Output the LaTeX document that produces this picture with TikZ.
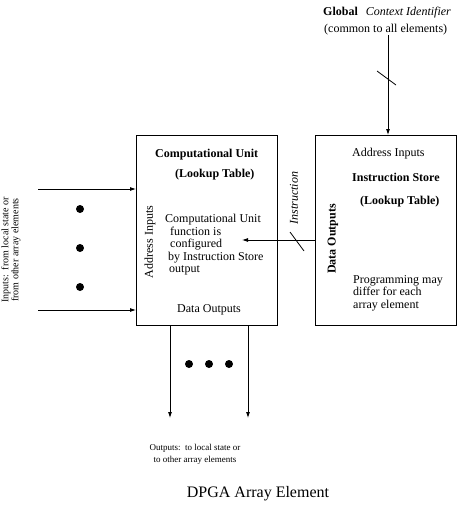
\documentclass[tikz,border=0pt]{standalone}
\usepackage{fontspec}
\setmainfont{Liberation Serif}
\usetikzlibrary{arrows.meta}
\begin{document}
\begin{tikzpicture}[x=1pt,y=-1pt,
    box/.style={draw,line width=0.8pt,minimum width=141pt,minimum height=190pt,anchor=north west,inner sep=0pt},
    txt/.style={inner sep=0pt,font=\fontsize{12}{12.5}\selectfont},
    arr/.style={line width=0.8pt,-{Latex[length=6pt,width=4pt]}}]
    \useasboundingbox (0,0) rectangle (457,509);
    \node[box] (cu) at (136,135) {};
    \node[box] (is) at (315,135) {};
    \node[txt,anchor=base west] (ctx) at (323,15) {\textbf{Global}\hspace{8pt}\textit{Context Identifier}};
    \node[txt,anchor=base west] (common) at (324,32) {(common to all elements)};
    \node[txt,anchor=base west] (cuname) at (155,157) {\textbf{Computational Unit}};
    \node[txt,anchor=base west] (culut) at (175,177) {\textbf{(Lookup Table)}};
    \node[txt,rotate=90] (cuaddr) at (150,242) {Address Inputs};
    \node[txt,anchor=north west,align=left] (cufun) at (165,214) {Computational Unit\\\hspace*{5pt}function is\\\hspace*{5pt}configured\\\hspace*{3pt}by Instruction Store\\\hspace*{4pt}output};
    \node[txt,anchor=base west] (cuout) at (177,312) {Data Outputs};
    \node[txt,anchor=base west] (isaddr) at (352,156) {Address Inputs};
    \node[txt,anchor=base west] (isname) at (352,181) {\textbf{Instruction Store}};
    \node[txt,anchor=base west] (islut) at (360,204) {\textbf{(Lookup Table)}};
    \node[txt,rotate=90] (isout) at (333,239) {\textbf{Data Outputs}};
    \node[txt,anchor=north west,align=left] (isprog) at (353,275) {Programming may\\differ for each\\array element};
    \node[txt,rotate=90,font=\fontsize{12}{12.5}\selectfont\itshape] (instrlbl) at (294,198) {Instruction};
    \node[rotate=90,align=center,inner sep=0pt,font=\fontsize{10}{10}\selectfont] (inlbl) at (11,250) {Inputs:\ \ from local state or\\from other array elements};
    \node[align=center,inner sep=0pt,font=\fontsize{9}{12}\selectfont] (outlbl) at (195,454) {Outputs:\ \ to local state or\\to other array elements};
    \node[inner sep=0pt,font=\fontsize{16}{18}\selectfont] (title) at (258,494) {DPGA Array Element};
    \coordinate (ctxin) at (388,35);
    \coordinate (instr) at (242,240);
    \coordinate (in1) at (38,189);
    \coordinate (in2) at (38,310);
    \coordinate (out1) at (170,418);
    \coordinate (out2) at (248,418);
    \draw[arr] (ctxin) -- (ctxin |- is.north);
    \draw[arr] (instr -| is.west) -- (instr);
    \draw[arr] (in1) -- (in1 -| cu.west);
    \draw[arr] (in2) -- (in2 -| cu.west);
    \draw[arr] (out1 |- cu.south) -- (out1);
    \draw[arr] (out2 |- cu.south) -- (out2);
    \draw[line width=0.8pt] (377,71) -- (396,85);
    \draw[line width=0.8pt] (290,232) -- (304,251);
    \foreach \y in {209,248,287} \fill (80,\y) circle (4pt);
    \foreach \x in {189,209,229} \fill (\x,364) circle (4pt);
\end{tikzpicture}
\end{document}
